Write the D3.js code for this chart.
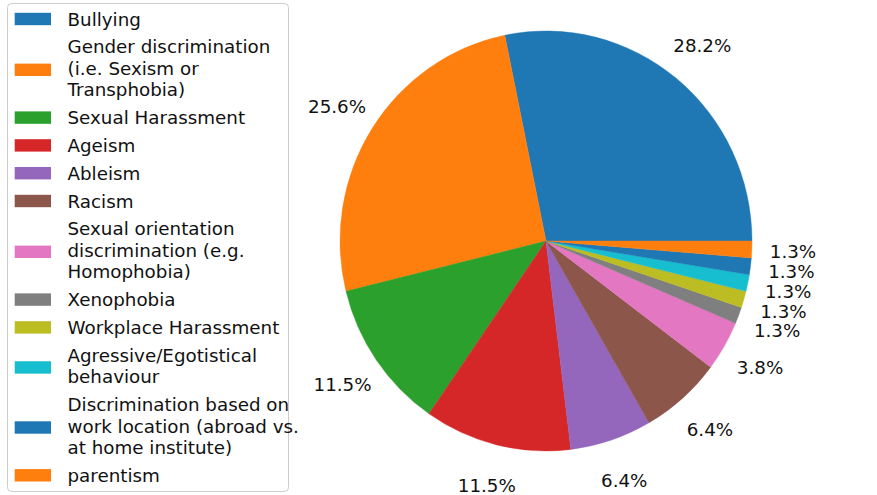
<!DOCTYPE html>
<html>
<head>
<meta charset="utf-8">
<script src="https://cdn.jsdelivr.net/npm/d3@7"></script>
<style>
  html, body { margin: 0; padding: 0; background: #fff; }
  svg { display: block; }
  text { font-family: "DejaVu Sans", sans-serif; fill: #111; }
</style>
</head>
<body>
<script>
// ---- data ----
const categories = [
  "Bullying",
  "Gender discrimination\n(i.e. Sexism or\nTransphobia)",
  "Sexual Harassment",
  "Ageism",
  "Ableism",
  "Racism",
  "Sexual orientation\ndiscrimination (e.g.\nHomophobia)",
  "Xenophobia",
  "Workplace Harassment",
  "Agressive/Egotistical\nbehaviour",
  "Discrimination based on\nwork location (abroad vs.\nat home institute)",
  "parentism"
];
const counts = [22, 20, 9, 9, 5, 5, 3, 1, 1, 1, 1, 1];
const colors = ["#1f77b4", "#ff7f0e", "#2ca02c", "#d62728", "#9467bd", "#8c564b",
                "#e377c2", "#7f7f7f", "#bcbd22", "#17becf", "#1f77b4", "#ff7f0e"];

// ---- layout ----
const W = 877, H = 495;
const cx = 546, cy = 241, rx = 206, ry = 210;
const pctDist = 1.2;
const fontSize = 18.3;

const svg = d3.select("body").append("svg")
  .attr("width", W).attr("height", H);
svg.append("rect").attr("width", W).attr("height", H).attr("fill", "#fff");

const total = d3.sum(counts);
const data = counts.map((v, i) => ({ label: categories[i], value: v, color: colors[i] }));

// matplotlib style: start at east (3 o'clock), counter-clockwise
const pie = d3.pie().sort(null).value(d => d.value)
  .startAngle(Math.PI / 2).endAngle(Math.PI / 2 - 2 * Math.PI);
const arcs = pie(data);
const arc = d3.arc().innerRadius(0).outerRadius(rx);

const g = svg.append("g")
  .attr("transform", `translate(${cx},${cy}) scale(1,${ry / rx})`);
g.selectAll("path").data(arcs).enter().append("path")
  .attr("d", arc)
  .attr("fill", d => d.data.color)
  .attr("stroke", d => d.data.color)
  .attr("stroke-width", 0.4);

const fmt = v => (100 * v / total).toFixed(1) + "%";
svg.append("g").selectAll("text").data(arcs).enter().append("text")
  .attr("x", d => cx + pctDist * rx * Math.sin((d.startAngle + d.endAngle) / 2))
  .attr("y", d => cy - pctDist * ry * Math.cos((d.startAngle + d.endAngle) / 2))
  .attr("dy", "0.36em")
  .attr("text-anchor", "middle")
  .attr("font-size", fontSize)
  .text(d => fmt(d.value));

// ---- legend ----
const leg = svg.append("g");
leg.append("rect")
  .attr("x", 7.5).attr("y", 3.5).attr("width", 281).attr("height", 488)
  .attr("rx", 4).attr("ry", 4)
  .attr("fill", "#fff").attr("fill-opacity", 0.8)
  .attr("stroke", "#cccccc").attr("stroke-width", 1);

const lineH = 21.5, gap = 6.3;
let yCursor = 19 - lineH / 2;
data.forEach((d, i) => {
  const lines = d.label.split("\n");
  const h = lines.length * lineH;
  const center = yCursor + h / 2;
  leg.append("rect")
    .attr("x", 14.7).attr("y", center - 6.2 + (lines.length > 1 ? 1.5 : 0))
    .attr("width", 36.3).attr("height", 12.4)
    .attr("fill", d.color);
  const t = leg.append("text")
    .attr("x", 67.5)
    .attr("font-size", fontSize);
  lines.forEach((ln, j) => {
    t.append("tspan")
      .attr("x", 67.5)
      .attr("y", yCursor + lineH * j + lineH / 2)
      .attr("dy", "0.36em")
      .text(ln);
  });
  yCursor += h + gap;
});
</script>
</body>
</html>
